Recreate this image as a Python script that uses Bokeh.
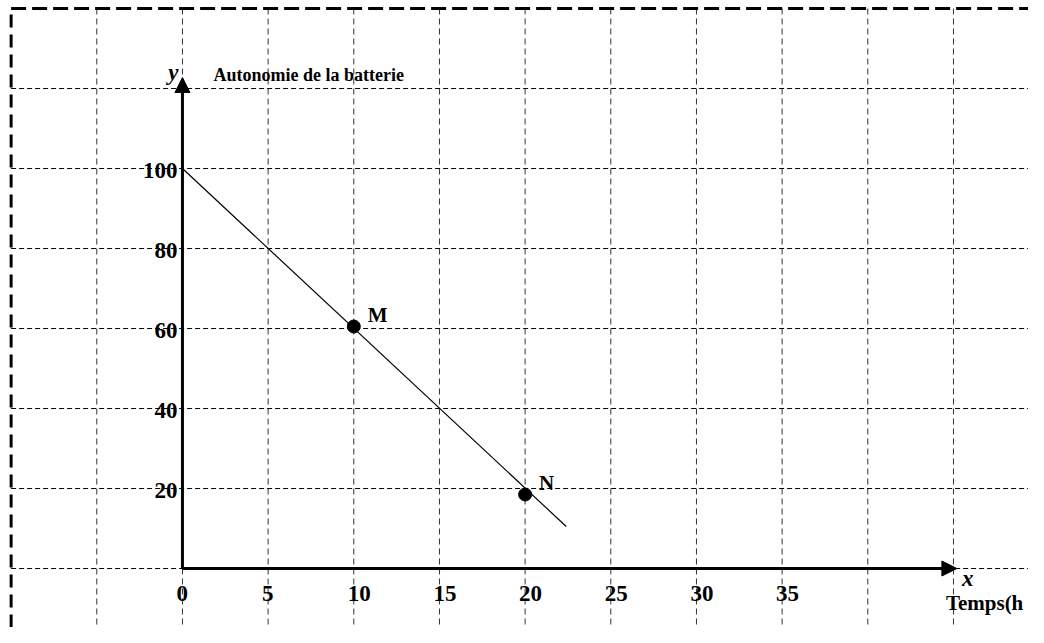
from bokeh.plotting import figure
from bokeh.models import Range1d, Arrow, NormalHead
from bokeh.core.properties import value
from bokeh.embed import file_html
from bokeh.resources import INLINE

# ---- data ----
x_ticks = [0, 5, 10, 15, 20, 25, 30, 35]
x_tick_labels = ["0", "5", "10", "15", "20", "25", "30", "35"]
y_ticks = [20, 40, 60, 80, 100]
y_tick_labels = ["20", "40", "60", "80", "100"]
grid_x = [-5, 0, 5, 10, 15, 20, 25, 30, 35, 40, 45]
grid_y = [0, 20, 40, 60, 80, 100, 120]
line_x = [0, 22.4]
line_y = [100, 10.5]
pt_names = ["M", "N"]
pt_x = [10, 20]
pt_y = [60.5, 18.5]
x_axis_end = 45.2
y_axis_end = 122.75
frame_left = -10
frame_top = 140
title = "Autonomie de la batterie"
x_name = "Temps(h"

X0, X1 = -10.62, 49.38
Y0, Y1 = -14.75, 142.0

FONT = value("Liberation Serif")

p = figure(width=1028, height=627, output_backend="svg", toolbar_location=None,
           x_range=Range1d(X0, X1), y_range=Range1d(Y0, Y1), min_border=0)
p.axis.visible = False
p.grid.visible = False
p.outline_line_color = None
p.background_fill_color = "white"
p.border_fill_color = "white"

# dashed grid
p.segment(x0=grid_x, y0=[frame_top] * len(grid_x), x1=grid_x, y1=[Y0] * len(grid_x),
          line_color="#333333", line_width=1, line_dash="6 4")
p.segment(x0=[frame_left] * len(grid_y), y0=grid_y, x1=[X1] * len(grid_y), y1=grid_y,
          line_color="black", line_width=1, line_dash="5 3")

# dashed borders (left and top)
p.line([frame_left, frame_left], [Y0, frame_top], line_color="black", line_width=3, line_dash="13 7")
p.line([frame_left, X1], [frame_top, frame_top], line_color="black", line_width=3, line_dash="15 6")

# axes with arrows
p.add_layout(Arrow(end=NormalHead(size=15, fill_color="black", line_color="black"),
                   x_start=0, y_start=0, x_end=x_axis_end, y_end=0,
                   line_width=3, line_color="black"))
p.add_layout(Arrow(end=NormalHead(size=15, fill_color="black", line_color="black"),
                   x_start=0, y_start=0, x_end=0, y_end=y_axis_end,
                   line_width=3, line_color="black"))

# data line and points
p.line(line_x, line_y, line_color="black", line_width=1.2)
p.scatter(pt_x, pt_y, size=13, fill_color="black", line_color="black")
p.text(pt_x, pt_y, text=pt_names, text_font=FONT, text_font_style="bold",
       text_font_size="21px", text_align="left", text_baseline="middle",
       x_offset=14, y_offset=-12, text_color="black")

# tick labels
p.text(x_ticks, [0] * len(x_ticks), text=x_tick_labels, text_font=FONT,
       text_font_style="bold", text_font_size="23px", text_align="left",
       text_baseline="middle", x_offset=-6, y_offset=25, text_color="black")
p.text([0] * len(y_ticks), y_ticks, text=y_tick_labels, text_font=FONT,
       text_font_style="bold", text_font_size="23px", text_align="right",
       text_baseline="middle", x_offset=-5, y_offset=2, text_color="black")

# axis names and title
p.text([0], [y_axis_end], text=["y"], text_font=FONT, text_font_style="bold italic",
       text_font_size="23px", text_align="right", text_baseline="alphabetic",
       x_offset=-4, y_offset=-5, text_color="black")
p.text([0], [y_axis_end], text=[title], text_font=FONT, text_font_style="bold",
       text_font_size="18px", text_align="left", text_baseline="alphabetic",
       x_offset=31, y_offset=-3, text_color="black")
p.text([x_axis_end], [0], text=["x"], text_font=FONT, text_font_style="bold italic",
       text_font_size="23px", text_align="left", text_baseline="alphabetic",
       x_offset=5, y_offset=10, text_color="black")
p.text([x_axis_end], [0], text=[x_name], text_font=FONT, text_font_style="bold",
       text_font_size="21px", text_align="left", text_baseline="alphabetic",
       x_offset=-11, y_offset=34, text_color="black")

open("out.html", "w").write(file_html(p, INLINE))
